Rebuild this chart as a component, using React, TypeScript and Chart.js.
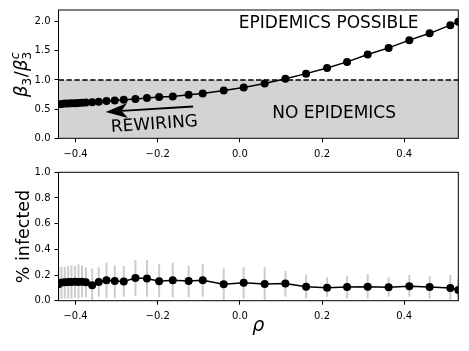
import React, { useEffect, useRef } from 'react';
import { Chart, registerables } from 'chart.js';
Chart.register(...registerables);

// ---- data ----
const rho = [
  -0.4416, -0.4343, -0.4263, -0.418, -0.41, -0.4015, -0.393, -0.3844, -0.375,
  -0.3596, -0.3436, -0.3248, -0.3046, -0.2827, -0.2543, -0.2263, -0.1966,
  -0.1635, -0.1248, -0.0905, -0.0394, 0.0092, 0.0603, 0.1107, 0.1611, 0.2122,
  0.2608, 0.311, 0.362, 0.4124, 0.4618, 0.5122, 0.5316,
];
const betaRatio = [
  0.585, 0.59, 0.595, 0.598, 0.6, 0.603, 0.606, 0.61, 0.613, 0.62, 0.626, 0.638,
  0.648, 0.66, 0.672, 0.69, 0.707, 0.717, 0.747, 0.769, 0.82, 0.872, 0.94, 1.022,
  1.109, 1.207, 1.31, 1.436, 1.55, 1.683, 1.8, 1.94, 2.0,
];
const infected = [
  0.128, 0.141, 0.143, 0.145, 0.146, 0.147, 0.146, 0.148, 0.144, 0.12, 0.146,
  0.159, 0.154, 0.149, 0.177, 0.172, 0.151, 0.159, 0.154, 0.159, 0.128, 0.14,
  0.13, 0.133, 0.109, 0.101, 0.107, 0.109, 0.104, 0.112, 0.107, 0.099, 0.083,
];
const infectedHi = [
  0.26, 0.265, 0.265, 0.27, 0.275, 0.27, 0.281, 0.275, 0.26, 0.25, 0.26, 0.296,
  0.275, 0.27, 0.317, 0.317, 0.286, 0.296, 0.275, 0.286, 0.25, 0.26, 0.26,
  0.231, 0.205, 0.182, 0.192, 0.208, 0.182, 0.2, 0.192, 0.2, 0.17,
];
const infectedLo = [
  0.0, 0.018, 0.018, 0.018, 0.018, 0.024, 0.018, 0.026, 0.026, 0.0, 0.031,
  0.021, 0.021, 0.031, 0.039, 0.031, 0.026, 0.026, 0.026, 0.031, 0.005, 0.018,
  0.005, 0.031, 0.018, 0.031, 0.018, 0.018, 0.031, 0.031, 0.018, 0.005, 0.0,
];
const xTicks = [-0.4, -0.2, 0.0, 0.2, 0.4];
const topYTicks = [0.0, 0.5, 1.0, 1.5, 2.0];
const bottomYTicks = [0.0, 0.2, 0.4, 0.6, 0.8, 1.0];
const topYRange = [0, 2.2];
const bottomYRange = [0, 1.0];
const threshold = 1.0;

const FONT = '"DejaVu Sans"';
const W = 469;
const TOP_H = 160;
const BOT_H = 191;

function fmt(v: number) {
  const s = Math.abs(v).toFixed(1);
  return (v < -1e-9 ? '\u2212' : '') + s;
}

function makeOptions(
  yRange: number[],
  yTicks: number[],
  xAxisHeight: number,
  topPad: number
) {
  return {
    animation: false,
    responsive: false,
    maintainAspectRatio: false,
    events: [],
    layout: { padding: { left: 0, right: W - 458.3, top: topPad, bottom: 0 } },
    plugins: { legend: { display: false }, tooltip: { enabled: false } },
    scales: {
      x: {
        type: 'linear',
        min: rho[0],
        max: rho[rho.length - 1],
        afterBuildTicks: (s: any) => {
          s.ticks = xTicks.map((v) => ({ value: v }));
        },
        afterFit: (s: any) => {
          s.height = xAxisHeight;
        },
        grid: { drawOnChartArea: false, drawTicks: true, tickLength: 4, color: '#000', lineWidth: 1 },
        border: { display: false },
        ticks: {
          callback: (v: number) => fmt(v),
          font: { family: FONT, size: 10 },
          color: '#000',
          padding: 6,
          maxRotation: 0,
          autoSkip: false,
        },
      },
      y: {
        type: 'linear',
        min: yRange[0],
        max: yRange[1],
        afterBuildTicks: (s: any) => {
          s.ticks = yTicks.map((v) => ({ value: v }));
        },
        afterFit: (s: any) => {
          s.width = 58.5;
        },
        grid: { drawOnChartArea: false, drawTicks: true, tickLength: 4, color: '#000', lineWidth: 1 },
        border: { display: false },
        ticks: {
          callback: (v: number) => fmt(v),
          font: { family: FONT, size: 10 },
          color: '#000',
          padding: 4,
          autoSkip: false,
        },
      },
    },
  };
}

function drawFrame(chart: any) {
  const { ctx, chartArea: a } = chart;
  ctx.save();
  ctx.strokeStyle = '#000';
  ctx.lineWidth = 1;
  ctx.strokeRect(a.left, a.top, a.right - a.left, a.bottom - a.top);
  ctx.restore();
}

const topPlugin = {
  id: 'topDecor',
  beforeDatasetsDraw(chart: any) {
    const { ctx, chartArea: a, scales } = chart;
    const ys = scales.y;
    const y0 = ys.getPixelForValue(0);
    const y1 = ys.getPixelForValue(threshold);
    ctx.save();
    ctx.fillStyle = '#d3d3d3';
    ctx.fillRect(a.left, y1, a.right - a.left, y0 - y1);
    ctx.strokeStyle = '#000';
    ctx.lineWidth = 1.5;
    ctx.setLineDash([5.5, 2.4]);
    ctx.beginPath();
    ctx.moveTo(a.left, y1);
    ctx.lineTo(a.right, y1);
    ctx.stroke();
    ctx.setLineDash([]);

    // texts
    const xs = scales.x;
    ctx.fillStyle = '#000';
    ctx.font = `17px ${FONT}`;
    ctx.textAlign = 'center';
    ctx.textBaseline = 'middle';
    ctx.fillText('EPIDEMICS POSSIBLE', xs.getPixelForValue(0.216), ys.getPixelForValue(1.967));
    ctx.fillText('NO EPIDEMICS', xs.getPixelForValue(0.2295), ys.getPixelForValue(0.431));
    ctx.save();
    ctx.translate(xs.getPixelForValue(-0.208), ys.getPixelForValue(0.235));
    ctx.rotate((-4 * Math.PI) / 180);
    ctx.fillText('REWIRING', 0, 0);
    ctx.restore();

    // arrow
    const sx = xs.getPixelForValue(-0.1139);
    const sy = ys.getPixelForValue(0.545);
    const ex = xs.getPixelForValue(-0.327);
    const ey = ys.getPixelForValue(0.453);
    const ang = Math.atan2(ey - sy, ex - sx);
    const ux = Math.cos(ang), uy = Math.sin(ang);
    const px = -uy, py = ux;
    const headLen = 22, headHalf = 7.5, notch = 16;
    ctx.lineWidth = 1.8;
    ctx.beginPath();
    ctx.moveTo(sx, sy);
    ctx.lineTo(ex - ux * notch, ey - uy * notch);
    ctx.stroke();
    ctx.beginPath();
    ctx.moveTo(ex, ey);
    ctx.lineTo(ex - ux * headLen + px * headHalf, ey - uy * headLen + py * headHalf);
    ctx.lineTo(ex - ux * notch, ey - uy * notch);
    ctx.lineTo(ex - ux * headLen - px * headHalf, ey - uy * headLen - py * headHalf);
    ctx.closePath();
    ctx.fill();
    ctx.restore();
  },
  afterDraw(chart: any) {
    drawFrame(chart);
    const { ctx, chartArea: a } = chart;
    // y label: beta_3 / beta_3^c
    ctx.save();
    ctx.translate(27, (a.top + a.bottom) / 2);
    ctx.rotate(-Math.PI / 2);
    ctx.fillStyle = '#000';
    ctx.textBaseline = 'alphabetic';
    ctx.textAlign = 'left';
    const big = `italic 18px ${FONT}`;
    const reg = `18px ${FONT}`;
    const small = `12.5px ${FONT}`;
    const smallIt = `italic 12.5px ${FONT}`;
    ctx.font = big; const wb = ctx.measureText('\u03b2').width;
    ctx.font = small; const w3 = ctx.measureText('3').width;
    ctx.font = reg; const ws = ctx.measureText('/').width;
    ctx.font = smallIt; const wc = ctx.measureText('c').width;
    const total = wb + w3 + ws + wb + Math.max(w3, wc) + 1;
    let x = -total / 2;
    ctx.font = big; ctx.fillText('\u03b2', x, 0); x += wb;
    ctx.font = small; ctx.fillText('3', x, 4); x += w3 + 0.5;
    ctx.font = reg; ctx.fillText('/', x, 0); x += ws;
    ctx.font = big; ctx.fillText('\u03b2', x, 0); x += wb;
    ctx.font = small; ctx.fillText('3', x, 4);
    ctx.font = smallIt; ctx.fillText('c', x + 0.5, -8);
    ctx.restore();
  },
};

const bottomPlugin = {
  id: 'bottomDecor',
  beforeDatasetsDraw(chart: any) {
    const { ctx, chartArea: a, scales } = chart;
    const xs = scales.x, ys = scales.y;
    ctx.save();
    ctx.beginPath();
    ctx.rect(a.left, a.top, a.right - a.left, a.bottom - a.top);
    ctx.clip();
    ctx.strokeStyle = '#cccccc';
    ctx.lineWidth = 2;
    for (let i = 0; i < rho.length; i++) {
      const x = xs.getPixelForValue(rho[i]);
      ctx.beginPath();
      ctx.moveTo(x, ys.getPixelForValue(infectedLo[i]));
      ctx.lineTo(x, ys.getPixelForValue(infectedHi[i]));
      ctx.stroke();
    }
    ctx.restore();
  },
  afterDraw(chart: any) {
    drawFrame(chart);
    const { ctx, chartArea: a } = chart;
    ctx.save();
    ctx.fillStyle = '#000';
    ctx.translate(29, (a.top + a.bottom) / 2);
    ctx.rotate(-Math.PI / 2);
    ctx.font = `17.5px ${FONT}`;
    ctx.textAlign = 'center';
    ctx.textBaseline = 'alphabetic';
    ctx.fillText('% infected', 0, 0);
    ctx.restore();
    ctx.save();
    ctx.fillStyle = '#000';
    ctx.font = `italic 19px ${FONT}`;
    ctx.textAlign = 'center';
    ctx.textBaseline = 'alphabetic';
    ctx.fillText('\u03c1', (a.left + a.right) / 2, 171);
    ctx.restore();
  },
};

function lineDataset(values: number[]) {
  return {
    data: rho.map((x, i) => ({ x, y: values[i] })),
    borderColor: '#000',
    backgroundColor: '#000',
    borderWidth: 1.5,
    pointRadius: 4,
    pointBackgroundColor: '#000',
    pointBorderWidth: 0,
    tension: 0,
    clip: 0,
  };
}

export default function App() {
  const topRef = useRef<HTMLCanvasElement>(null);
  const botRef = useRef<HTMLCanvasElement>(null);

  useEffect(() => {
    document.body.style.margin = '0';
    const c1 = new Chart(topRef.current as HTMLCanvasElement, {
      type: 'line',
      data: { datasets: [lineDataset(betaRatio)] as any },
      options: makeOptions(topYRange, topYTicks, TOP_H - 138.3, 10) as any,
      plugins: [topPlugin],
    });
    const c2 = new Chart(botRef.current as HTMLCanvasElement, {
      type: 'line',
      data: { datasets: [lineDataset(infected)] as any },
      options: makeOptions(bottomYRange, bottomYTicks, BOT_H - 140.7, 12.3) as any,
      plugins: [bottomPlugin],
    });
    return () => {
      c1.destroy();
      c2.destroy();
    };
  }, []);

  return (
    <div style={{ position: 'absolute', left: 0, top: 0, width: W, height: TOP_H + BOT_H, background: '#fff' }}>
      <canvas ref={topRef} width={W} height={TOP_H} style={{ position: 'absolute', left: 0, top: 0, width: W, height: TOP_H }} />
      <canvas ref={botRef} width={W} height={BOT_H} style={{ position: 'absolute', left: 0, top: TOP_H, width: W, height: BOT_H }} />
    </div>
  );
}
